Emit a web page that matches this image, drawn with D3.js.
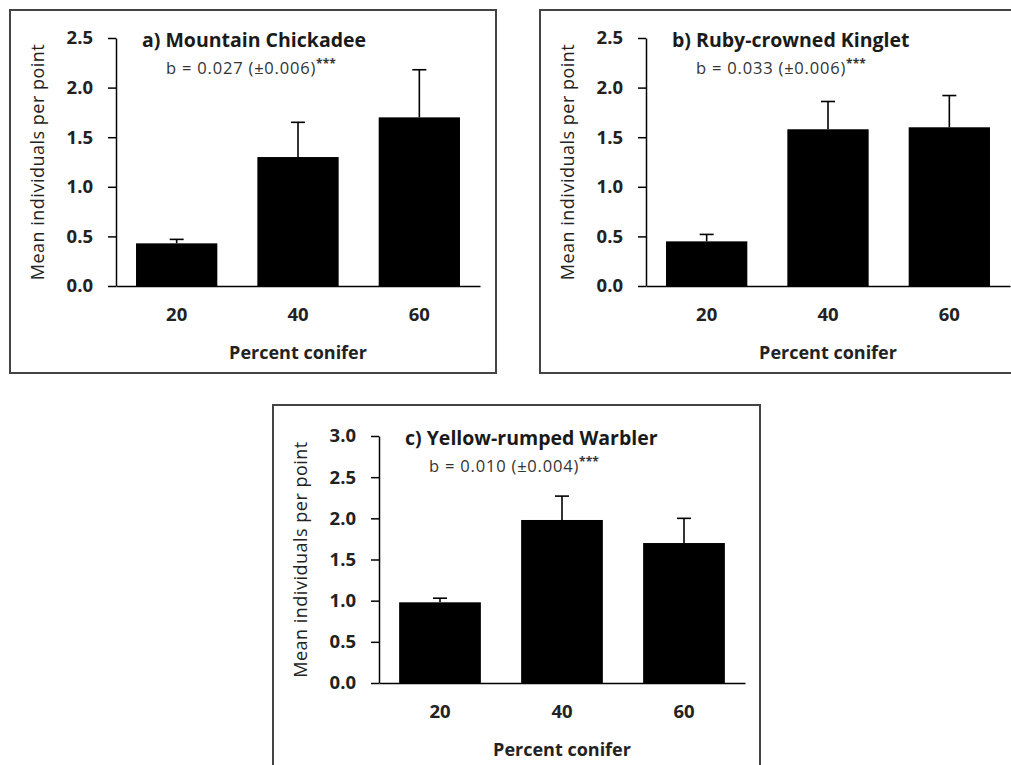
<!DOCTYPE html>
<html>
<head>
<meta charset="utf-8">
<script src="https://cdn.jsdelivr.net/npm/d3@7"></script>
<style>
  body { margin: 0; background: #fff; }
  svg { display: block; font-family: "Open Sans", sans-serif; }
</style>
</head>
<body>
<svg width="1011" height="765"></svg>
<script>
// data
const categories = ['20', '40', '60'];

const chickadeeMeans = [0.43, 1.30, 1.70];
const chickadeeErr = [0.04, 0.35, 0.48];

const kingletMeans = [0.45, 1.58, 1.60];
const kingletErr = [0.07, 0.28, 0.32];

const warblerMeans = [0.98, 1.98, 1.70];
const warblerErr = [0.05, 0.29, 0.30];

const titles = ['a) Mountain Chickadee', 'b) Ruby-crowned Kinglet', 'c) Yellow-rumped Warbler'];
const slopes = ['0.027', '0.033', '0.010'];
const slopeSE = ['0.006', '0.006', '0.004'];
const yTicksAB = [0, 0.5, 1.0, 1.5, 2.0, 2.5];
const yTicksC = [0, 0.5, 1.0, 1.5, 2.0, 2.5, 3.0];

const svg = d3.select('svg');

// panel layout
const panels = [
  { frame: [10, 10, 486, 363], x0: 116, x1: 480, yTop: 38, yBot: 286, ymax: 2.5, ticks: yTicksAB,
    means: chickadeeMeans, err: chickadeeErr },
  { frame: [540, 10, 480, 363], x0: 646, x1: 1010, yTop: 38, yBot: 286, ymax: 2.5, ticks: yTicksAB,
    means: kingletMeans, err: kingletErr },
  { frame: [273, 405, 487, 400], x0: 379, x1: 745, yTop: 436, yBot: 683, ymax: 3.0, ticks: yTicksC,
    means: warblerMeans, err: warblerErr }
];

panels.forEach((p, i) => {
  const g = svg.append('g');

  g.append('rect')
    .attr('x', p.frame[0]).attr('y', p.frame[1])
    .attr('width', p.frame[2]).attr('height', p.frame[3])
    .attr('fill', 'none')
    .attr('stroke', '#444')
    .attr('stroke-width', 2);

  const x = d3.scaleBand()
    .domain(categories)
    .range([p.x0, p.x1])
    .paddingInner(0.33)
    .paddingOuter(0.165);

  const y = d3.scaleLinear()
    .domain([0, p.ymax])
    .range([p.yBot, p.yTop]);

  const rows = categories.map((c, k) => ({ cat: c, mean: p.means[k], err: p.err[k] }));

  // error bars (upper only), drawn under the bars
  const eb = g.selectAll('.err').data(rows).enter().append('g').attr('class', 'err')
    .attr('stroke', '#000').attr('stroke-width', 1.6);
  eb.append('line')
    .attr('x1', d => x(d.cat) + x.bandwidth() / 2)
    .attr('x2', d => x(d.cat) + x.bandwidth() / 2)
    .attr('y1', d => y(d.mean))
    .attr('y2', d => y(d.mean + d.err));
  eb.append('line')
    .attr('x1', d => x(d.cat) + x.bandwidth() / 2 - 7)
    .attr('x2', d => x(d.cat) + x.bandwidth() / 2 + 7)
    .attr('y1', d => y(d.mean + d.err))
    .attr('y2', d => y(d.mean + d.err));

  g.selectAll('.bar').data(rows).enter().append('rect')
    .attr('class', 'bar')
    .attr('x', d => x(d.cat))
    .attr('width', x.bandwidth())
    .attr('y', d => y(d.mean))
    .attr('height', d => y(0) - y(d.mean))
    .attr('fill', '#000');

  // axes
  const yAxis = g.append('g')
    .attr('transform', `translate(${p.x0},0)`)
    .call(d3.axisLeft(y).tickValues(p.ticks).tickFormat(d3.format('.1f'))
      .tickSize(8).tickSizeOuter(0).tickPadding(15))
    .attr('font-family', null);
  yAxis.select('.domain').attr('stroke', '#000').attr('stroke-width', 1.5);
  yAxis.selectAll('.tick line').attr('stroke', '#000').attr('stroke-width', 1.5);
  yAxis.selectAll('.tick text')
    .attr('font-size', 18.5).attr('font-weight', 700).attr('fill', '#222');

  const xAxis = g.append('g')
    .attr('transform', `translate(0,${p.yBot})`)
    .call(d3.axisBottom(x).tickSize(0).tickPadding(22))
    .attr('font-family', null);
  xAxis.select('.domain').attr('stroke', '#000').attr('stroke-width', 1.5);
  xAxis.selectAll('.tick text')
    .attr('font-size', 18.5).attr('font-weight', 700).attr('fill', '#222');

  // axis titles
  g.append('text')
    .attr('x', (p.x0 + p.x1) / 2)
    .attr('y', p.yBot + 73)
    .attr('text-anchor', 'middle')
    .attr('font-size', 18).attr('font-weight', 700).attr('fill', '#222')
    .text('Percent conifer');

  g.append('text')
    .attr('transform', `translate(${p.x0 - 72},${(p.yTop + p.yBot) / 2}) rotate(-90)`)
    .attr('text-anchor', 'middle')
    .attr('font-size', 18).attr('letter-spacing', 0.5).attr('fill', '#222')
    .text('Mean individuals per point');

  // panel title and slope
  g.append('text')
    .attr('x', p.x0 + 26)
    .attr('y', p.yTop + 9)
    .attr('font-size', 19.5).attr('font-weight', 700).attr('fill', '#1a1a1a')
    .text(titles[i]);

  const s = g.append('text')
    .attr('x', p.x0 + 50)
    .attr('y', p.yTop + 36)
    .attr('font-size', 16.5).attr('letter-spacing', 0.8).attr('fill', '#333')
    .text(`b = ${slopes[i]} (±${slopeSE[i]})`);
  s.append('tspan')
    .attr('dy', -6)
    .attr('font-size', 12)
    .attr('font-weight', 700)
    .attr('letter-spacing', 0)
    .text('***');
});
</script>
</body>
</html>
